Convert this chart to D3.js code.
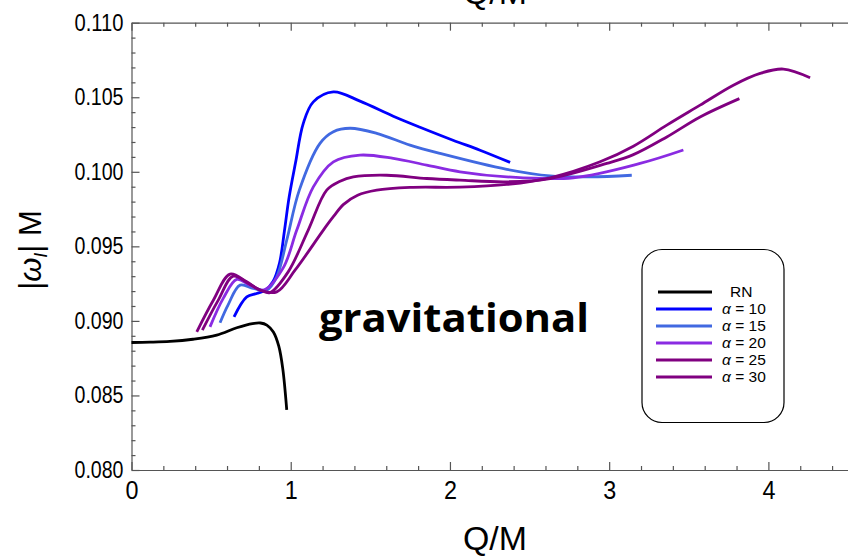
<!DOCTYPE html>
<html>
<head>
<meta charset="utf-8">
<script src="https://cdn.jsdelivr.net/npm/d3@7"></script>
<style>
  body { margin: 0; background: #fff; }
  svg { display: block; font-family: "Liberation Sans", Arial, sans-serif; }
</style>
</head>
<body>
<svg id="chart" width="848" height="557"></svg>
<script>
// values: Q/M and |omega_I| M
const rnQ = [0, 0.116, 0.242, 0.386, 0.535, 0.661, 0.760, 0.810, 0.850, 0.891, 0.925, 0.950, 0.975];
const rnW = [0.08855, 0.08857, 0.08862, 0.08877, 0.08905, 0.08954, 0.08982, 0.08986, 0.08972, 0.08925, 0.08830, 0.08680, 0.08403];

const a10Q = [0.644, 0.724, 0.786, 0.839, 0.889, 0.930, 0.960, 0.990, 1.030, 1.079, 1.142, 1.268, 1.435, 1.644, 1.812, 2.019, 2.189, 2.378];
const a10W = [0.09027, 0.09161, 0.09184, 0.09205, 0.09265, 0.09390, 0.09600, 0.09830, 0.10060, 0.10325, 0.10469, 0.10536, 0.10474, 0.10373, 0.10299, 0.10212, 0.10145, 0.10063];

const a15Q = [0.556, 0.606, 0.682, 0.765, 0.849, 0.912, 0.975, 1.054, 1.184, 1.268, 1.373, 1.540, 1.749, 1.938, 2.357, 2.629, 2.880, 3.142];
const a15W = [0.08987, 0.09106, 0.09240, 0.09218, 0.09207, 0.09296, 0.09542, 0.09877, 0.10191, 0.10269, 0.10292, 0.10258, 0.10179, 0.10123, 0.10016, 0.09972, 0.09966, 0.09977];

const a20Q = [0.493, 0.577, 0.661, 0.744, 0.828, 0.952, 1.038, 1.142, 1.268, 1.435, 1.644, 1.854, 2.063, 2.357, 2.775, 3.194, 3.466];
const a20W = [0.08960, 0.09153, 0.09278, 0.09240, 0.09207, 0.09354, 0.09609, 0.09899, 0.10067, 0.10112, 0.10090, 0.10045, 0.10000, 0.09966, 0.09960, 0.10056, 0.10146];

const a25Q = [0.445, 0.545, 0.639, 0.734, 0.818, 0.870, 0.983, 1.110, 1.226, 1.310, 1.393, 1.603, 1.854, 2.063, 2.357, 2.629, 2.985, 3.152, 3.362, 3.571, 3.818];
const a25W = [0.08938, 0.09139, 0.09300, 0.09251, 0.09202, 0.09190, 0.09327, 0.09609, 0.09877, 0.09937, 0.09966, 0.09977, 0.09955, 0.09944, 0.09933, 0.09955, 0.10056, 0.10115, 0.10234, 0.10368, 0.10491];

const a30Q = [0.410, 0.514, 0.619, 0.724, 0.807, 0.912, 1.027, 1.205, 1.270, 1.330, 1.420, 1.540, 1.749, 2.063, 2.357, 2.629, 2.943, 3.152, 3.362, 3.571, 3.780, 3.948, 4.094, 4.262];
const a30W = [0.08927, 0.09139, 0.09314, 0.09262, 0.09207, 0.09195, 0.09340, 0.09609, 0.09702, 0.09780, 0.09843, 0.09877, 0.09895, 0.09897, 0.09915, 0.09960, 0.10067, 0.10172, 0.10313, 0.10447, 0.10581, 0.10660, 0.10689, 0.10631];

const seriesNames = ["RN", "α = 10", "α = 15", "α = 20", "α = 25", "α = 30"];
const seriesColors = ["#000000", "#0000ff", "#4169e1", "#8a2be2", "#800080", "#800080"];

const xTicks = [0, 1, 2, 3, 4];
const yTicks = [0.080, 0.085, 0.090, 0.095, 0.100, 0.105, 0.110];

const series = [
    [rnQ, rnW], [a10Q, a10W], [a15Q, a15W], [a20Q, a20W], [a25Q, a25W], [a30Q, a30W]
].map(([q, w], i) => ({
    name: seriesNames[i],
    color: seriesColors[i],
    points: q.map((v, j) => [v, w[j]])
}));

const svg = d3.select("#chart");

const x = d3.scaleLinear().domain([0, 4.5]).range([131.5, 848]);
const y = d3.scaleLinear().domain([0.080, 0.110]).range([470, 22.7]);

// minor ticks every 0.2 in x and 0.001 in y
const xMinor = d3.range(0, 4.51, 0.2).filter(v => Math.abs(v - Math.round(v)) > 1e-6);
const yMinor = d3.range(0.080, 0.1101, 0.001).filter(v => Math.abs(v * 200 - Math.round(v * 200)) > 1e-6);

function styleAxis(g) {
    g.selectAll("path, line").attr("stroke", "#555").attr("stroke-width", 1.2);
    g.selectAll("text").attr("fill", "#000");
}

// bottom axis
svg.append("g").attr("transform", "translate(0,470)")
    .call(d3.axisBottom(x).tickValues(xTicks).tickSize(-8).tickSizeOuter(0).tickPadding(11).tickFormat(d3.format("d")))
    .call(styleAxis)
    .call(g => g.selectAll("text").attr("font-size", 26)
        .attr("textLength", 13).attr("lengthAdjust", "spacingAndGlyphs"));
svg.append("g").attr("transform", "translate(0,470)")
    .call(d3.axisBottom(x).tickValues(xMinor).tickSize(-4).tickSizeOuter(0).tickFormat(""))
    .call(styleAxis).call(g => g.select(".domain").remove());

// top frame
svg.append("g").attr("transform", "translate(0,22.7)")
    .call(d3.axisTop(x).tickValues(xTicks).tickSize(-8).tickSizeOuter(0).tickFormat(""))
    .call(styleAxis);
svg.append("g").attr("transform", "translate(0,22.7)")
    .call(d3.axisTop(x).tickValues(xMinor).tickSize(-4).tickSizeOuter(0).tickFormat(""))
    .call(styleAxis).call(g => g.select(".domain").remove());

// left axis
svg.append("g").attr("transform", "translate(131.5,0)")
    .call(d3.axisLeft(y).tickValues(yTicks).tickSize(-8).tickSizeOuter(0).tickPadding(8).tickFormat(d3.format(".3f")))
    .call(styleAxis)
    .call(g => g.selectAll("text").attr("font-size", 23)
        .attr("textLength", 49).attr("lengthAdjust", "spacingAndGlyphs"));
svg.append("g").attr("transform", "translate(131.5,0)")
    .call(d3.axisLeft(y).tickValues(yMinor).tickSize(-4).tickSizeOuter(0).tickFormat(""))
    .call(styleAxis).call(g => g.select(".domain").remove());

// curves
const line = d3.line()
    .x(d => x(d[0]))
    .y(d => y(d[1]))
    .curve(d3.curveCatmullRom.alpha(0.5));

svg.append("g").selectAll("path")
    .data(series)
    .join("path")
    .attr("d", d => line(d.points))
    .attr("fill", "none")
    .attr("stroke", d => d.color)
    .attr("stroke-width", 2.8)
    .attr("stroke-linejoin", "round");

// axis labels
svg.append("text")
    .attr("x", 495).attr("y", 550)
    .attr("text-anchor", "middle")
    .attr("font-size", 33)
    .attr("textLength", 64).attr("lengthAdjust", "spacingAndGlyphs")
    .text("Q/M");

// cut-off label at the very top, as in the source figure
svg.append("text")
    .attr("x", 495).attr("y", 4)
    .attr("text-anchor", "middle")
    .attr("font-size", 33)
    .attr("textLength", 64).attr("lengthAdjust", "spacingAndGlyphs")
    .text("Q/M");

const ylab = svg.append("text")
    .attr("transform", "translate(41,250) rotate(-90)")
    .attr("text-anchor", "middle")
    .attr("font-size", 31);
ylab.append("tspan").text("|");
ylab.append("tspan").attr("font-style", "italic").text("ω");
ylab.append("tspan").attr("font-style", "italic").attr("font-size", 18).attr("dy", 6).text("I");
ylab.append("tspan").attr("dy", -6).text("| M");

// annotation
svg.append("text")
    .attr("x", 454).attr("y", 332)
    .attr("text-anchor", "middle")
    .attr("font-family", "Open Sans, Noto Sans, sans-serif")
    .attr("font-weight", "bold")
    .attr("font-size", 39)
    .attr("textLength", 270).attr("lengthAdjust", "spacingAndGlyphs")
    .text("gravitational");

// legend
const legend = svg.append("g");
legend.append("rect")
    .attr("x", 642).attr("y", 249.5)
    .attr("width", 142).attr("height", 173)
    .attr("rx", 20).attr("ry", 20)
    .attr("fill", "#fff")
    .attr("stroke", "#000")
    .attr("stroke-width", 1.2);

const rows = legend.selectAll("g.row")
    .data(series)
    .join("g")
    .attr("class", "row")
    .attr("transform", (d, i) => `translate(0,${292 + i * 17})`);

rows.append("line")
    .attr("x1", (d, i) => i === 0 ? 658 : 656)
    .attr("x2", 712)
    .attr("stroke", d => d.color)
    .attr("stroke-width", 3);

rows.append("text")
    .attr("x", (d, i) => i === 0 ? 730 : 722)
    .attr("dy", "0.35em")
    .attr("font-size", 15.5)
    .each(function(d, i) {
        const t = d3.select(this);
        if (i === 0) { t.text(d.name); return; }
        t.append("tspan").attr("font-style", "italic").text("α");
        t.append("tspan").text(d.name.slice(1));
    });
</script>
</body>
</html>
